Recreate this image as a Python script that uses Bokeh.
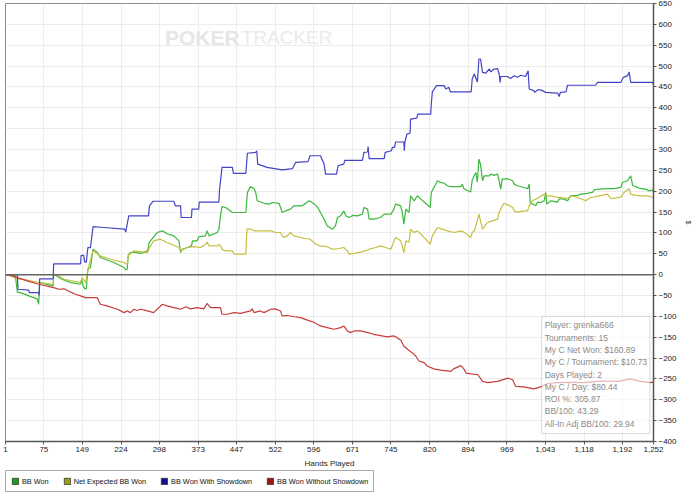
from bokeh.plotting import figure
from bokeh.layouts import column
from bokeh.models import (Range1d, FixedTicker, NumeralTickFormatter, Span, Label,
                          BoxAnnotation, Legend, LegendItem)
from bokeh.embed import file_html
from bokeh.resources import INLINE

# ---------------- data (hands played, big blinds) ----------------
bb_won_hands = [1, 20, 24, 30, 46, 62, 65, 67, 93, 94, 98, 110, 127, 146, 148, 151, 154, 157, 160, 165,
                170, 178, 184, 210, 230, 233, 236, 238, 242, 249, 262, 275, 277, 278, 286, 294, 304, 313,
                326, 336, 339, 342, 352, 360, 362, 371, 374, 387, 390, 394, 410, 413, 416, 419, 426, 439,
                465, 468, 474, 481, 484, 487, 500, 510, 516, 529, 532, 535, 542, 551, 558, 574, 587, 593,
                600, 606, 609, 616, 622, 632, 638, 642, 648, 654, 658, 664, 671, 680, 690, 693, 700, 703,
                712, 725, 732, 745, 751, 754, 764, 767, 770, 774, 780, 783, 790, 796, 803, 812, 821, 823,
                835, 841, 848, 854, 860, 880, 883, 886, 899, 902, 909, 912, 915, 918, 922, 925, 935, 938,
                944, 951, 954, 957, 960, 970, 980, 983, 989, 1002, 1009, 1012, 1014, 1016, 1025, 1028,
                1034, 1041, 1044, 1046, 1054, 1067, 1070, 1079, 1086, 1092, 1105, 1112, 1124, 1134, 1137,
                1147, 1163, 1176, 1189, 1192, 1202, 1208, 1212, 1218, 1228, 1237, 1243, 1250, 1252]
bb_won = [0, -3, -42, -43, -51, -58, -71, -19, -27, 0, -2, -11, -19, -23, -11, -27, -34, -34, 13, 17,
          61, 54, 41, 29, 17, 11, 13, 47, 53, 54, 51, 57, 65, 77, 89, 101, 105, 98,
          93, 81, 53, 61, 65, 69, 81, 81, 91, 93, 105, 93, 101, 109, 141, 163, 161, 149,
          149, 197, 211, 206, 197, 177, 171, 169, 173, 171, 161, 149, 153, 157, 165, 165, 177, 173,
          166, 157, 149, 133, 117, 109, 117, 137, 141, 153, 141, 137, 142, 141, 145, 161, 157, 133,
          133, 137, 145, 145, 157, 169, 165, 149, 121, 157, 149, 189, 177, 189, 181, 171, 161, 197,
          225, 221, 219, 213, 211, 211, 217, 206, 198, 227, 245, 222, 277, 265, 225, 237, 237, 241,
          238, 241, 225, 205, 229, 230, 225, 217, 213, 209, 206, 217, 173, 171, 165, 174,
          173, 177, 197, 169, 177, 174, 182, 181, 177, 189, 190, 193, 195, 197, 203,
          205, 206, 206, 209, 221, 225, 237, 213, 211, 206, 205, 201, 203, 197]

net_exp_hands = [1, 11, 24, 36, 49, 62, 67, 93, 94, 104, 114, 146, 149, 156, 160, 170, 184, 204, 230, 236,
                 238, 249, 275, 278, 287, 300, 313, 336, 339, 345, 352, 365, 378, 387, 390, 394, 410, 413,
                 416, 420, 426, 439, 442, 465, 467, 474, 481, 513, 522, 532, 535, 539, 545, 551, 558, 571,
                 580, 587, 593, 600, 609, 622, 632, 642, 654, 661, 664, 674, 687, 700, 703, 716, 725, 735,
                 745, 750, 754, 764, 767, 770, 774, 780, 783, 790, 796, 803, 812, 821, 825, 835, 844, 854,
                 867, 880, 886, 899, 902, 906, 909, 915, 918, 922, 931, 941, 951, 954, 963, 973, 980, 983,
                 989, 1002, 1009, 1012, 1018, 1025, 1041, 1044, 1054, 1067, 1073, 1086, 1095, 1112, 1121,
                 1131, 1147, 1163, 1170, 1189, 1195, 1205, 1208, 1218, 1228, 1240, 1252]
net_exp = [0, -3, -10, -11, -15, -18, -19, -23, 0, -3, -11, -19, -7, -19, 13, 57, 45, 37, 29, 25,
           46, 57, 53, 62, 81, 85, 77, 65, 57, 61, 65, 67, 65, 73, 78, 69, 69, 73,
           69, 60, 57, 57, 49, 49, 109, 110, 105, 105, 101, 101, 93, 89, 93, 101, 93, 89,
           86, 86, 81, 73, 69, 67, 61, 62, 65, 57, 49, 51, 54, 59, 61, 65, 69, 65,
           61, 77, 89, 81, 69, 53, 81, 78, 109, 101, 105, 97, 85, 73, 93, 113, 109, 105,
           101, 105, 102, 89, 101, 105, 117, 145, 129, 109, 125, 129, 133, 149, 171, 166, 161, 153,
           150, 153, 153, 165, 177, 181, 193, 189, 189, 185, 185, 183, 189, 182, 177,
           185, 189, 193, 182, 186, 197, 206, 193, 190, 189, 189, 185]

sd_hands = [1, 24, 25, 46, 47, 65, 66, 67, 93, 94, 146, 147, 152, 154, 157, 160, 165, 170, 191, 231,
            233, 239, 277, 279, 286, 326, 329, 339, 340, 360, 361, 374, 375, 413, 414, 419, 439, 441,
            465, 468, 484, 486, 488, 506, 535, 555, 561, 585, 589, 609, 616, 619, 640, 643, 654, 656,
            690, 693, 700, 701, 703, 732, 734, 746, 748, 752, 754, 770, 771, 772, 776, 782, 783, 795,
            797, 822, 823, 825, 833, 848, 851, 857, 860, 900, 902, 906, 912, 915, 918, 922, 928, 935,
            938, 944, 951, 954, 956, 957, 970, 976, 983, 989, 996, 1005, 1010, 1012, 1021, 1023, 1028,
            1034, 1044, 1067, 1070, 1072, 1083, 1086, 1140, 1144, 1189, 1194, 1202, 1205, 1208, 1250, 1252]
sd_won = [0, 0, -35, -37, -43, -43, -50, -10, -10, 26, 26, 46, 46, 30, 30, 65, 65, 115, 113, 109,
          102, 141, 141, 165, 176, 176, 165, 165, 137, 137, 157, 157, 174, 174, 201, 257, 257, 243,
          243, 291, 293, 297, 265, 257, 251, 254, 269, 271, 285, 285, 265, 241, 241, 261, 265, 274,
          274, 293, 294, 307, 278, 278, 293, 297, 305, 305, 318, 318, 297, 318, 337, 339, 373, 375,
          385, 385, 409, 438, 453, 453, 445, 449, 438, 438, 469, 481, 462, 517, 517, 485, 483, 493,
          486, 493, 494, 481, 461, 475, 475, 470, 477, 473, 478, 475, 489, 445, 441, 437, 443,
          443, 437, 435, 427, 437, 438, 454, 454, 461, 461, 473, 477, 486, 461, 461, 455]

nsd_hands = [1, 11, 24, 43, 65, 94, 104, 114, 127, 136, 146, 156, 178, 184, 197, 217, 230, 236, 242, 249,
             255, 262, 275, 287, 304, 313, 326, 339, 349, 358, 371, 384, 390, 397, 416, 419, 429, 442,
             455, 474, 477, 481, 493, 500, 513, 522, 532, 535, 545, 558, 571, 584, 596, 603, 609, 622,
             635, 648, 654, 661, 667, 674, 687, 700, 712, 725, 738, 751, 757, 764, 770, 777, 786, 793,
             799, 809, 815, 828, 841, 861, 866, 880, 886, 890, 913, 922, 932, 951, 971, 980, 986, 1001,
             1021, 1034, 1048, 1067, 1092, 1117, 1144, 1164, 1183, 1207, 1227, 1247, 1252]
nsd_won = [0, -2, -7, -15, -23, -31, -35, -34, -42, -47, -51, -55, -55, -71, -75, -83, -91, -87, -91, -83,
           -86, -83, -87, -91, -71, -75, -79, -83, -77, -82, -79, -82, -69, -79, -79, -95, -95, -91,
           -93, -87, -82, -91, -87, -91, -83, -82, -87, -99, -98, -101, -103, -109, -114, -119, -123, -127,
           -131, -127, -123, -135, -139, -135, -135, -139, -143, -146, -149, -147, -151, -157, -171, -179, -187, -195,
           -207, -211, -219, -226, -229, -232, -226, -218, -226, -236, -240, -256, -259, -256, -248, -252, -268, -269,
           -274, -269, -261, -259, -258, -259, -256, -255, -256, -250, -256, -259, -257]

x_ticks = [1, 75, 149, 224, 298, 373, 447, 522, 596, 671, 745, 820, 894, 969, 1043, 1118, 1192, 1252]
y_ticks = list(range(-400, 651, 50))

info_lines = ["Player: grenka666", "Tournaments: 15", "My C Net Won: $160.89",
              "My C / Tournament: $10.73", "Days Played: 2", "My C / Day: $80.44",
              "ROI %: 305.87", "BB/100: 43.29", "All-In Adj BB/100: 29.94"]

series = [
    ("BB Won", bb_won_hands, bb_won, "#3cb83c", "#1f9a1f"),
    ("Net Expected BB Won", net_exp_hands, net_exp, "#c6bf40", "#a09a1a"),
    ("BB Won With Showdown", sd_hands, sd_won, "#4343c6", "#12128f"),
    ("BB Won Without Showdown", nsd_hands, nsd_won, "#c83c3c", "#a01414"),
]

FONT = "Liberation Sans"

p = figure(width=700, height=470, x_range=Range1d(1, 1252), y_range=Range1d(-400, 650),
           y_axis_location="right", output_backend="svg", toolbar_location=None,
           min_border_left=5, min_border_right=47, min_border_top=3, min_border_bottom=29,
           background_fill_color="white", border_fill_color="white")
p.outline_line_color = "#8c8c8c"
p.outline_line_width = 1

# grid
p.xgrid.ticker = FixedTicker(ticks=x_ticks)
p.ygrid.ticker = FixedTicker(ticks=y_ticks)
p.xgrid.grid_line_color = "#ececec"
p.ygrid.grid_line_color = "#ececec"

# x axis
xa = p.xaxis[0]
xa.ticker = FixedTicker(ticks=x_ticks)
xa.formatter = NumeralTickFormatter(format="0,0")
xa.axis_label = "Hands Played"
xa.axis_label_text_font = FONT
xa.axis_label_text_font_size = "8px"
xa.axis_label_text_font_style = "normal"
xa.axis_label_text_color = "#222222"
xa.axis_label_standoff = 4
xa.major_label_text_font = FONT
xa.major_label_text_font_size = "8px"
xa.major_label_text_color = "#222222"
xa.major_label_standoff = 2
xa.major_tick_out = 3
xa.major_tick_in = 0
xa.minor_tick_out = 0
xa.minor_tick_in = 0
xa.axis_line_color = "#555555"
xa.axis_line_width = 1.5
xa.major_tick_line_color = "#555555"

# y axis (right)
ya = p.yaxis[0]
ya.ticker = FixedTicker(ticks=y_ticks)
ya.axis_label = "$"
ya.axis_label_text_font = FONT
ya.axis_label_text_font_size = "7px"
ya.axis_label_text_font_style = "normal"
ya.axis_label_standoff = 5
ya.major_label_text_font = FONT
ya.major_label_text_font_size = "8px"
ya.major_label_text_color = "#222222"
ya.major_label_standoff = 2
ya.major_tick_out = 3
ya.major_tick_in = 0
ya.minor_tick_out = 0
ya.minor_tick_in = 0
ya.axis_line_color = "#555555"
ya.axis_line_width = 1.5
ya.major_tick_line_color = "#555555"

# watermark
p.add_layout(Label(x=453, y=568, text="POKER", text_align="right", text_baseline="middle",
                   text_font=FONT, text_font_style="bold",
                   text_font_size="21px", text_color="#e6e6e6"))
p.add_layout(Label(x=457, y=568, text="TRACKER", text_align="left", text_baseline="middle",
                   text_font=FONT, text_font_size="19px", text_color="#ebebeb"))

# zero line
p.add_layout(Span(location=0, dimension="width", line_color="#666666", line_width=1.5))

# series
for name, xs, ys, lc, sc in series:
    p.line(xs, ys, line_color=lc, line_width=1.2)

# info box
p.add_layout(BoxAnnotation(left=1036, right=1245, top=-100, bottom=-381,
                           fill_color="white", fill_alpha=0.6,
                           line_color="#9a9a9a", line_width=1.2))
for i, t in enumerate(info_lines):
    p.add_layout(Label(x=1042, y=-121.5 - 29.5 * i, text=t, text_align="left",
                       text_baseline="middle", text_font=FONT, text_font_size="8.5px",
                       text_color="#8a8a8a"))

# legend strip below the chart (swatch helpers sit outside the strip's visible range)
lf = figure(width=700, height=26, x_range=Range1d(0, 1), y_range=Range1d(0, 1),
            output_backend="svg", toolbar_location=None, min_border=0,
            min_border_left=4, outline_line_color=None,
            background_fill_color="white", border_fill_color="white")
lf.axis.visible = False
lf.grid.visible = False
items = []
for name, xs, ys, lc, sc in series:
    swatch = lf.quad(left=[5], right=[6], top=[6], bottom=[5], fill_color=sc,
                     line_color="#333333", line_width=0.8)
    items.append(LegendItem(label=name, renderers=[swatch]))
legend = Legend(items=items, orientation="horizontal", location="top_left",
                glyph_width=8, glyph_height=8, label_height=10, label_standoff=3, spacing=14,
                padding=5, margin=0, border_line_color="#555555", border_line_width=1.5,
                background_fill_color="white", background_fill_alpha=1,
                label_text_font=FONT, label_text_font_size="7.3px", label_text_color="#111111")
lf.add_layout(legend)

open("out.html", "w").write(file_html(column(p, lf, spacing=0), INLINE))
